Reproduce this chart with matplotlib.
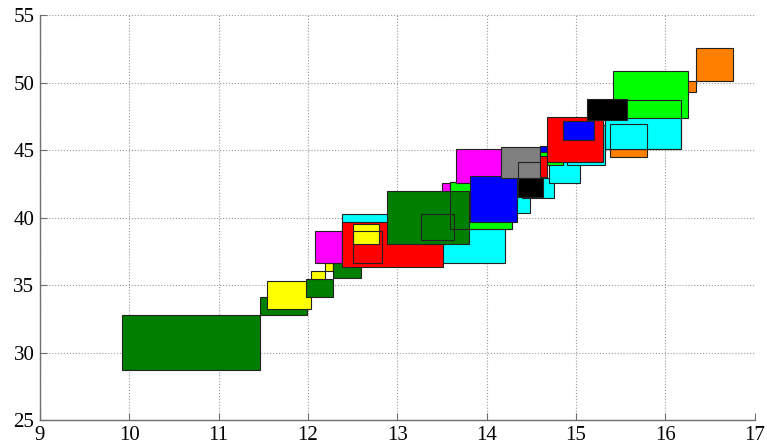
import matplotlib.pyplot as plt
from matplotlib.patches import Rectangle

# rectangle boxes: left x, bottom y, width, height, fill colour (None = outline only)
rect_x = [9.92, 11.46, 11.54, 11.98, 12.03, 12.19, 12.28, 12.08, 12.38, 12.38,
          12.50, 12.50, 13.50, 13.59, 12.89, 13.27, 13.59, 13.66, 14.30, 14.40,
          14.70, 13.81, 14.16, 14.35, 14.35, 14.60, 14.60, 14.60, 14.90, 14.67,
          14.85, 15.38, 15.32, 16.20, 15.41, 15.32, 15.38, 15.12, 16.34]
rect_y = [28.70, 32.78, 33.22, 34.11, 35.44, 36.04, 35.52, 36.63, 36.63, 36.33,
          38.04, 36.63, 41.50, 39.15, 38.04, 38.33, 39.15, 42.56, 40.33, 41.44,
          42.56, 39.67, 42.93, 42.93, 41.52, 44.50, 43.89, 43.00, 43.89, 44.11,
          45.74, 44.48, 45.07, 49.30, 47.37, 45.07, 45.07, 47.22, 50.11]
rect_w = [1.54, 0.53, 0.49, 0.30, 0.16, 0.09, 0.31, 0.30, 1.82, 1.13,
          0.30, 0.33, 0.25, 0.69, 0.91, 0.36, 0.69, 0.51, 0.18, 0.35,
          0.34, 0.53, 0.46, 0.28, 0.28, 0.08, 0.25, 0.08, 0.42, 0.63,
          0.35, 0.41, 0.85, 0.14, 0.84, 0.85, 0.41, 0.45, 0.42]
rect_h = [4.08, 1.33, 2.08, 1.33, 0.60, 0.59, 1.18, 2.37, 3.63, 3.34,
          1.48, 2.37, 1.06, 3.48, 3.92, 1.93, 3.48, 2.54, 1.50, 1.50,
          1.60, 3.43, 2.29, 1.18, 1.41, 0.80, 0.96, 1.60, 3.00, 3.33,
          1.41, 1.00, 3.63, 0.81, 3.48, 3.63, 1.86, 1.56, 2.45]
rect_c = ['#007f00', '#007f00', '#ffff00', '#007f00', '#ffff00', '#ffff00', '#007f00', '#ff00ff', '#00ffff', '#ff0000',
          '#ffff00', None, '#ff00ff', '#00ff00', '#007f00', None, None, '#ff00ff', '#00ffff', '#00ffff',
          '#00ffff', '#0000ff', '#808080', '#808080', '#000000', '#0000ff', '#00ff00', '#ff0000', '#00ffff', '#ff0000',
          '#0000ff', '#ff8000', '#00ffff', '#ff8000', '#00ff00', None, '#00ffff', '#000000', '#ff8000']

plt.rcParams['font.family'] = ['Liberation Serif', 'DejaVu Serif']

fig = plt.figure(figsize=(7.67, 4.47), dpi=100)
ax = fig.add_axes([0.052, 0.060, 0.932, 0.906])

for x, y, w, h, c in zip(rect_x, rect_y, rect_w, rect_h, rect_c):
    if c is None:
        patch = Rectangle((x, y), w, h, facecolor='none', edgecolor='#222222', linewidth=0.8)
    else:
        patch = Rectangle((x, y), w, h, facecolor=c, edgecolor='#222222', linewidth=0.8)
    ax.add_patch(patch)

ax.set_xlim(9, 17)
ax.set_ylim(25, 55)
ax.set_xticks(range(9, 18))
ax.set_yticks(range(25, 56, 5))
ax.grid(True, linestyle=':', color='#9a9a9a', linewidth=0.8)
ax.set_axisbelow(True)

for side in ['top', 'right']:
    ax.spines[side].set_visible(False)
for side in ['left', 'bottom']:
    ax.spines[side].set_color('#707070')
    ax.spines[side].set_linewidth(1.0)

ax.tick_params(direction='in', length=5, color='#707070', labelsize=15, pad=4)

fig.savefig('out.png', dpi=100)
